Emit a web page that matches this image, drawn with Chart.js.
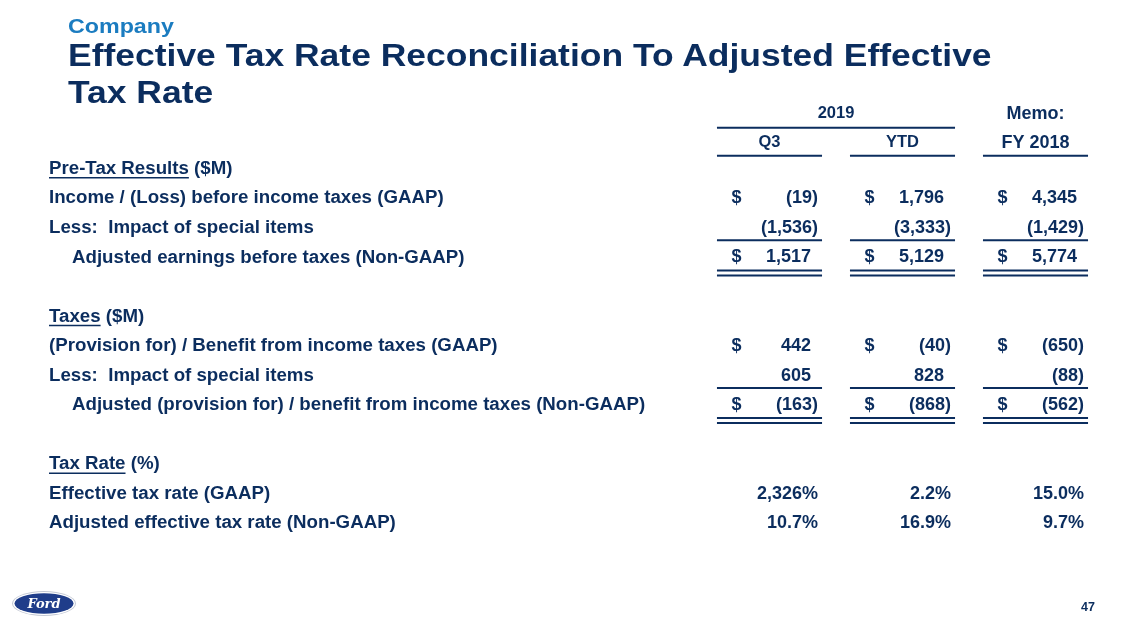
<!DOCTYPE html>
<html>
<head>
<meta charset="utf-8">
<script src="https://cdn.jsdelivr.net/npm/chart.js@4"></script>
<style>
  html, body { margin: 0; padding: 0; background: #fff; }
  #wrap { position: relative; width: 1134px; height: 635px; overflow: hidden; }
  #wrap canvas { position: absolute; left: 0; top: 0; }
  .company { position: absolute; left: 68px; top: 15px; font: bold 21px/21px "Liberation Sans", Arial, sans-serif; color: #1b7cc0; white-space: nowrap; transform: scaleX(1.107); transform-origin: 0 0; }
  .title { position: absolute; left: 68px; top: 37px; font: bold 31px/37px "Liberation Sans", Arial, sans-serif; color: #0b2d5e; white-space: nowrap; transform: scaleX(1.144); transform-origin: 0 0; }
  .page { position: absolute; left: 1081px; top: 601px; font: bold 12.5px/12px "Liberation Sans", Arial, sans-serif; color: #0b2d5e; }
  .logo { position: absolute; left: 11px; top: 590px; }
</style>
</head>
<body>
<div id="wrap">
  <canvas id="tbl" width="1134" height="635"></canvas>
  <div class="company">Company</div>
  <div class="title">Effective Tax Rate Reconciliation To Adjusted Effective<br>Tax Rate</div>
  <div class="page">47</div>
  <svg class="logo" width="66" height="27" viewBox="0 0 66 27">
    <ellipse cx="33" cy="13.5" rx="32" ry="12.5" fill="#c3c8d4"/>
    <ellipse cx="33" cy="13.5" rx="31" ry="11.5" fill="#fff"/>
    <ellipse cx="33" cy="13.5" rx="29.5" ry="10.2" fill="#1f3d8a"/>
    <text x="33" y="18" text-anchor="middle" font-family="DejaVu Serif" font-style="italic" font-weight="bold" font-size="13" fill="#fff">Ford</text>
  </svg>
</div>
<script>
const NAVY = '#0b2d5e';

// columns and rows
const columns = ['Q3', 'YTD', 'FY 2018'];
const groupLabel = '2019';
const memoLabel = 'Memo:';
const rowLabels = [
  'Pre-Tax Results',
  'Income / (Loss) before income taxes (GAAP)',
  'Less:  Impact of special items',
  'Adjusted earnings before taxes (Non-GAAP)',
  '',
  'Taxes',
  '(Provision for) / Benefit from income taxes (GAAP)',
  'Less:  Impact of special items',
  'Adjusted (provision for) / benefit from income taxes (Non-GAAP)',
  '',
  'Tax Rate',
  'Effective tax rate (GAAP)',
  'Adjusted effective tax rate (Non-GAAP)'
];
const headingRows = [0, 5, 10];
const headingUnits = ['($M)', '($M)', '(%)'];
const indentedRows = [3, 8];
const singleRuleRows = [2, 7];
const doubleRuleRows = [3, 8];

// values ($M and %)
const incomeBeforeTax = [-19, 1796, 4345];
const specialItemsPreTax = [-1536, -3333, -1429];
const adjustedEBT = [1517, 5129, 5774];
const taxProvision = [442, -40, -650];
const specialItemsTax = [605, 828, -88];
const adjustedTax = [-163, -868, -562];
const effectiveRate = [2326, 2.2, 15.0];
const adjustedRate = [10.7, 16.9, 9.7];

const series = [
  { row: 1, values: incomeBeforeTax, dollar: true },
  { row: 2, values: specialItemsPreTax, dollar: false },
  { row: 3, values: adjustedEBT, dollar: true },
  { row: 6, values: taxProvision, dollar: true },
  { row: 7, values: specialItemsTax, dollar: false },
  { row: 8, values: adjustedTax, dollar: true },
  { row: 11, values: effectiveRate, pct: true },
  { row: 12, values: adjustedRate, pct: true }
];

const LABEL_FONT = 'bold 18.7px "Liberation Sans", Arial, sans-serif';
const NUM_FONT = 'bold 18px "Liberation Sans", Arial, sans-serif';

function fmtMoney(v) {
  const s = Math.abs(v).toLocaleString('en-US');
  return v < 0 ? '(' + s + ')' : s;
}
function fmtPct(v) {
  const d = Math.abs(v) >= 1000 ? 0 : 1;
  return v.toLocaleString('en-US', { minimumFractionDigits: d, maximumFractionDigits: d }) + '%';
}

function hline(ctx, x1, x2, y, w) {
  ctx.beginPath();
  ctx.lineWidth = w || 2;
  ctx.moveTo(x1, y);
  ctx.lineTo(x2, y);
  ctx.stroke();
}

const tablePlugin = {
  id: 'table',
  afterDatasetsDraw(chart) {
    const { ctx, scales: { x, y } } = chart;
    const colW = x.getPixelForValue(1) - x.getPixelForValue(0);
    const half = colW * 0.395;
    const r0 = y.getPixelForValue(0);
    ctx.save();
    ctx.fillStyle = NAVY;
    ctx.strokeStyle = NAVY;
    ctx.textBaseline = 'middle';

    // column headers
    ctx.textAlign = 'center';
    ctx.font = 'bold 16.5px "Liberation Sans", Arial, sans-serif';
    const x0 = x.getPixelForValue(0), x1 = x.getPixelForValue(1), x2 = x.getPixelForValue(2);
    ctx.fillText(groupLabel, (x0 + x1) / 2, r0 - 55);
    hline(ctx, x0 - half, x1 + half, r0 - 41);
    ctx.fillText(columns[0], x0, r0 - 26);
    ctx.fillText(columns[1], x1, r0 - 26);
    ctx.font = 'bold 18px "Liberation Sans", Arial, sans-serif';
    ctx.fillText(memoLabel, x2, r0 - 55);
    ctx.fillText(columns[2], x2, r0 - 26);
    columns.forEach((c, i) => {
      const cx = x.getPixelForValue(i);
      hline(ctx, cx - half, cx + half, r0 - 13);
    });

    // row labels
    ctx.textAlign = 'left';
    ctx.font = LABEL_FONT;
    const left = 49;
    rowLabels.forEach((lab, r) => {
      if (!lab) return;
      const yy = y.getPixelForValue(r);
      const hi = headingRows.indexOf(r);
      if (hi >= 0) {
        ctx.fillText(lab, left, yy);
        const w = ctx.measureText(lab).width;
        hline(ctx, left, left + w, yy + 9, 1.5);
        ctx.fillText(' ' + headingUnits[hi], left + w, yy);
      } else {
        ctx.fillText(lab, indentedRows.includes(r) ? left + 23 : left, yy);
      }
    });

    // rules
    columns.forEach((c, i) => {
      const cx = x.getPixelForValue(i);
      singleRuleRows.forEach(r => hline(ctx, cx - half, cx + half, y.getPixelForValue(r) + 12.5));
      doubleRuleRows.forEach(r => {
        const yy = y.getPixelForValue(r);
        hline(ctx, cx - half, cx + half, yy + 13);
        hline(ctx, cx - half, cx + half, yy + 18);
      });
    });

    // values, placed at the point elements
    ctx.font = NUM_FONT;
    chart.data.datasets.forEach((ds, di) => {
      const s = series[di];
      chart.getDatasetMeta(di).data.forEach((pt, i) => {
        const v = s.values[i];
        if (s.dollar) {
          ctx.textAlign = 'left';
          ctx.fillText('$', pt.x - 38, pt.y);
        }
        ctx.textAlign = 'right';
        if (s.pct) {
          ctx.fillText(fmtPct(v), pt.x + 48.5, pt.y);
        } else {
          ctx.fillText(fmtMoney(v), pt.x + (v < 0 ? 48.5 : 41.5), pt.y);
        }
      });
    });
    ctx.restore();
  }
};

new Chart(document.getElementById('tbl'), {
  type: 'line',
  data: {
    labels: columns,
    datasets: series.map(s => ({
      label: rowLabels[s.row],
      data: s.values.map((v, i) => ({ x: columns[i], y: s.row })),
      showLine: false,
      pointRadius: 0
    }))
  },
  options: {
    responsive: false,
    animation: false,
    events: [],
    layout: { padding: { left: 703, right: 32, top: 154, bottom: 97 } },
    plugins: { legend: { display: false }, tooltip: { enabled: false } },
    scales: {
      x: { type: 'category', offset: true, display: false },
      y: { type: 'linear', reverse: true, min: -0.5, max: 12.5, display: false }
    }
  },
  plugins: [tablePlugin]
});
</script>
</body>
</html>
